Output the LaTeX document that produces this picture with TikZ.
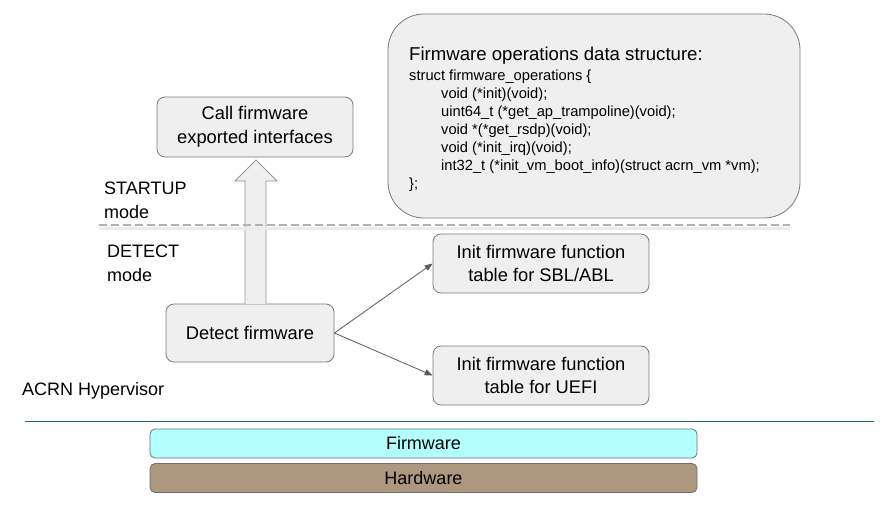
\documentclass[tikz,border=0pt]{standalone}
\usepackage{fontspec}
\setmainfont{Liberation Sans}
\usetikzlibrary{arrows.meta}
\definecolor{boxfill}{HTML}{EFEFEF}
\definecolor{boxdraw}{HTML}{7A7A7A}
\definecolor{fwfill}{HTML}{B3FFFF}
\definecolor{hwfill}{HTML}{AE977F}
\definecolor{teal2}{HTML}{1A6E6E}
\definecolor{arrowgray}{HTML}{5A5A5A}
\tikzset{
  fwbox/.style={draw=boxdraw, fill=boxfill, rounded corners=8pt, line width=0.8pt,
    align=center, font=\fontsize{18.3}{23.5}\selectfont, inner sep=0pt},
  bar/.style={draw=boxdraw!90!black, rounded corners=5pt, line width=0.8pt,
    font=\fontsize{18}{22}\selectfont, inner sep=0pt, minimum width=547pt, minimum height=29pt},
  conn/.style={draw=arrowgray, line width=0.8pt, -{Triangle[length=8pt,width=6pt]}},
  lbl/.style={font=\fontsize{18}{24}\selectfont, align=left, inner sep=0pt},
}
\begin{document}
\begin{tikzpicture}[x=1pt,y=-1pt]
\useasboundingbox (0,0) rectangle (888,518);
% code box
\node[draw=boxdraw, fill=boxfill, rounded corners=36pt, line width=0.8pt,
  minimum width=412pt, minimum height=204pt, inner sep=0pt] (ops) at (594,116) {};
\node[anchor=north west, align=left, inner sep=0pt,
  font=\fontsize{14.7}{18}\selectfont] (code) at (409,47)
  {{\fontsize{18.6}{18}\selectfont Firmware operations data structure:}\\[2pt]
   struct firmware\_operations \{\\
   \hspace*{32pt}void (*init)(void);\\
   \hspace*{32pt}uint64\_t (*get\_ap\_trampoline)(void);\\
   \hspace*{32pt}void *(*get\_rsdp)(void);\\
   \hspace*{32pt}void (*init\_irq)(void);\\
   \hspace*{32pt}int32\_t (*init\_vm\_boot\_info)(struct acrn\_vm *vm);\\
   \};};
% boxes
\node[fwbox, minimum width=196pt, minimum height=60pt] (call) at (255,127)
  {Call firmware\\exported interfaces};
\node[fwbox, minimum width=168pt, minimum height=58pt] (detect) at (250,333)
  {Detect firmware};
\node[fwbox, minimum width=216pt, minimum height=59pt] (sbl) at (541,263.5)
  {Init firmware function\\table for SBL/ABL};
\node[fwbox, minimum width=216pt, minimum height=59pt] (uefi) at (541,375.5)
  {Init firmware function\\table for UEFI};
% block arrow
\draw[draw=boxdraw!80, fill=boxfill, line width=0.8pt]
  (245,304) -- (245,181) -- (235,181) -- (256,160) -- (277,181) -- (266,181) -- (266,304);
% dashed separator with faint shadow
\draw[gray!15, line width=3pt] (99,229) -- (790,229);
\draw[gray!60, line width=1.2pt, dash pattern=on 8pt off 4pt] (99,225) -- (790,225);
% labels
\node[lbl, anchor=west] (startup) at (104,200) {STARTUP\\mode};
\node[lbl, anchor=west] (detectmode) at (107,263.5) {DETECT\\mode};
\node[lbl, anchor=west] (acrn) at (22,391) {ACRN Hypervisor};
% connectors
\draw[conn] (detect.east) -- (sbl.west);
\draw[conn] (detect.east) -- (uefi.west);
% hypervisor line
\draw[teal2, line width=1pt] (25,421) -- (874,421);
% bars
\node[bar, fill=fwfill] (fw) at (423.5,443.5) {Firmware};
\node[bar, fill=hwfill] (hw) at (423.5,478) {Hardware};
\end{tikzpicture}
\end{document}
